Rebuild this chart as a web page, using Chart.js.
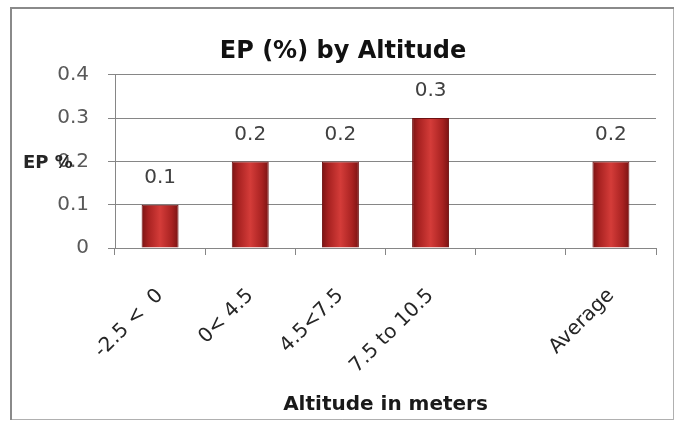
<!DOCTYPE html>
<html>
<head>
<meta charset="utf-8">
<script src="https://cdn.jsdelivr.net/npm/chart.js@4.4.1/dist/chart.umd.min.js"></script>
<style>
  html, body { margin: 0; padding: 0; background: #fff; }
  #wrap { width: 677px; height: 421px; position: relative; }
</style>
</head>
<body>
<div id="wrap"><canvas id="c" width="677" height="421"></canvas></div>
<script>
const categories = ['-2.5 <  0', '0< 4.5', '4.5<7.5', '7.5 to 10.5', '', 'Average'];
const epValues = [0.1, 0.2, 0.2, 0.3, null, 0.2];
const valueLabels = ['0.1', '0.2', '0.2', '0.3', '', '0.2'];
const yTickLabels = ['0', '0.1', '0.2', '0.3', '0.4'];
const chartTitle = 'EP (%) by Altitude';
const yAxisTitle = 'EP %';
const xAxisTitle = 'Altitude in meters';

Chart.defaults.font.family = "'DejaVu Sans', sans-serif";

const FONT = "'DejaVu Sans', sans-serif";
const BAR_PCT = 0.41;

function barGradient(context) {
  const chart = context.chart;
  const area = chart.chartArea;
  if (!area) return '#c0302f';
  const xs = chart.scales.x;
  const cx = xs.getPixelForValue(context.dataIndex);
  const w = (area.right - area.left) / categories.length * BAR_PCT;
  const g = chart.ctx.createLinearGradient(cx - w / 2, 0, cx + w / 2, 0);
  g.addColorStop(0, '#7a1313');
  g.addColorStop(0.18, '#a82221');
  g.addColorStop(0.5, '#d43c39');
  g.addColorStop(0.82, '#a82221');
  g.addColorStop(1, '#7a1313');
  return g;
}

const framePlugin = {
  id: 'frame',
  beforeDraw(chart) {
    const c = chart.ctx;
    c.save();
    c.fillStyle = '#ffffff';
    c.fillRect(0, 0, chart.width, chart.height);
    c.strokeStyle = '#b0b0b0';
    c.lineWidth = 1;
    c.strokeRect(673.5, 8.5, 0, 411);
    c.strokeRect(11.5, 419.5, 662, 0);
    c.strokeStyle = '#8a8a8a';
    c.lineWidth = 2;
    c.beginPath();
    c.moveTo(11, 420); c.lineTo(11, 8); c.lineTo(674, 8);
    c.stroke();
    c.restore();
  }
};

const labelsPlugin = {
  id: 'valueLabels',
  afterDatasetsDraw(chart) {
    const c = chart.ctx;
    const meta = chart.getDatasetMeta(0);
    c.save();
    c.font = '20px ' + FONT;
    c.fillStyle = '#404040';
    c.textAlign = 'center';
    c.textBaseline = 'middle';
    meta.data.forEach((el, i) => {
      if (epValues[i] === null) return;
      c.fillText(valueLabels[i], el.x, el.y - 27);
    });
    c.restore();
  },
  afterDraw(chart) {
    const c = chart.ctx;
    c.save();
    c.font = 'bold 18px ' + FONT;
    c.fillStyle = '#262626';
    c.textAlign = 'left';
    c.textBaseline = 'middle';
    const y = chart.scales.y.getPixelForValue(0.2) + 2;
    c.fillText(yAxisTitle, 23, y);
    c.restore();
  }
};

new Chart(document.getElementById('c'), {
  type: 'bar',
  data: {
    labels: categories,
    datasets: [{
      data: epValues,
      backgroundColor: barGradient,
      borderColor: '#6e1111',
      borderWidth: 1,
      barPercentage: BAR_PCT,
      categoryPercentage: 1.0
    }]
  },
  options: {
    responsive: false,
    animation: false,
    events: [],
    layout: { padding: { left: 30, right: 21, top: 0, bottom: 4 } },
    plugins: {
      legend: { display: false },
      tooltip: { enabled: false },
      title: {
        display: true,
        text: chartTitle,
        color: '#111111',
        font: { family: FONT, size: 24, weight: 'bold' },
        padding: { top: 37, bottom: 9 }
      }
    },
    scales: {
      x: {
        grid: { display: true, drawOnChartArea: false, drawTicks: true, tickLength: 7, color: '#868686' },
        border: { display: true, color: '#868686' },
        ticks: {
          color: '#262626',
          font: { family: FONT, size: 20 },
          minRotation: 45,
          maxRotation: 45,
          padding: 29,
          autoSkip: false
        },
        title: {
          display: true,
          text: xAxisTitle,
          color: '#1a1a1a',
          font: { family: FONT, size: 20, weight: 'bold' },
          padding: { top: 0, bottom: 0 }
        },
        afterFit(s) { s.height = 169; }
      },
      y: {
        min: 0,
        max: 0.4,
        ticks: {
          stepSize: 0.1,
          color: '#595959',
          font: { family: FONT, size: 20 },
          padding: 19,
          callback: (v, i) => yTickLabels[i]
        },
        grid: { color: '#868686', tickLength: 7 },
        border: { display: true, color: '#868686' },
        afterFit(s) { s.width = 85; }
      }
    }
  },
  plugins: [framePlugin, labelsPlugin]
});
</script>
</body>
</html>
